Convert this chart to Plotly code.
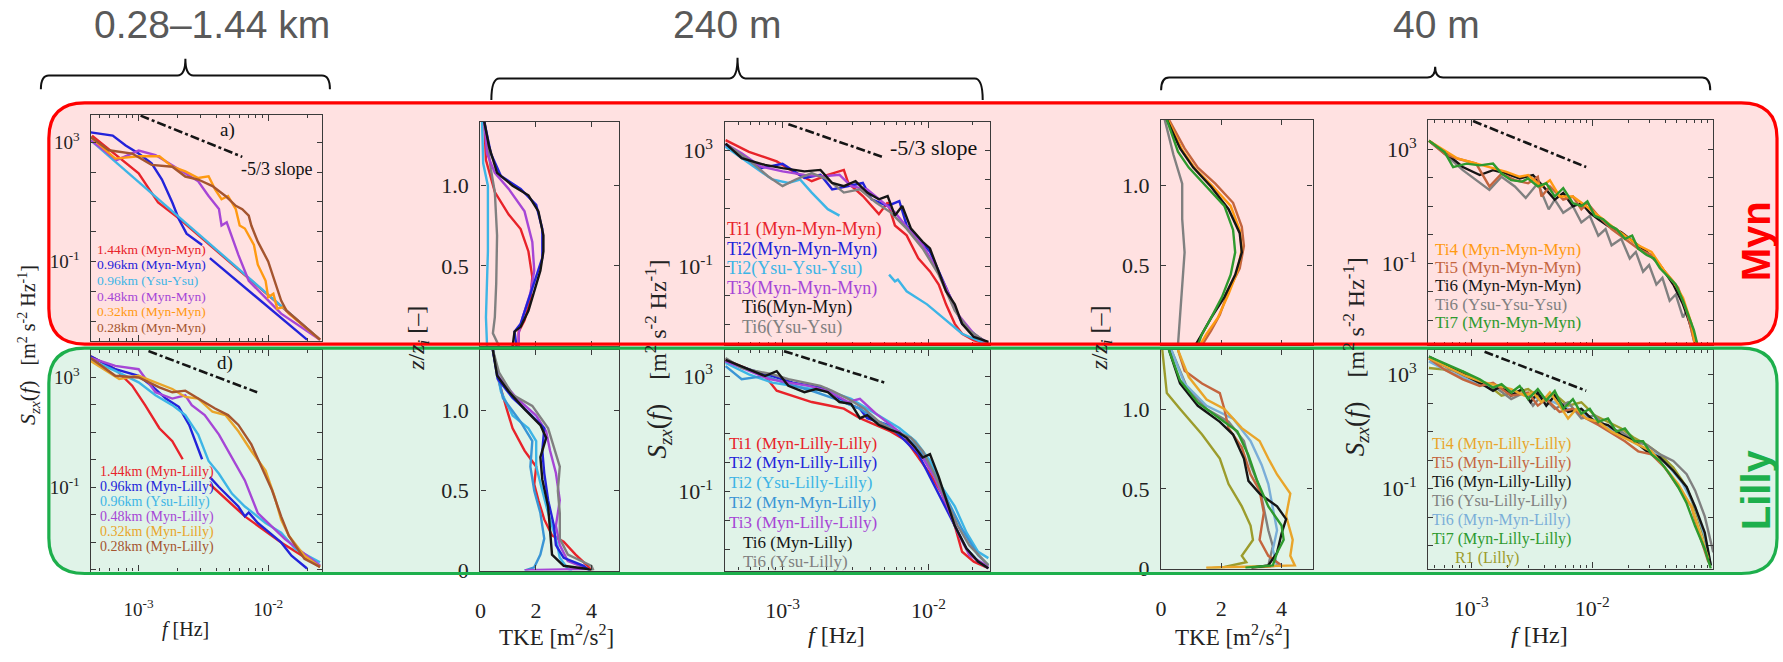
import plotly.graph_objects as go

W, H = 1783, 662

# ======================= DATA =======================
# Spectra: (log10 f [Hz], log10 S_zx [m2 s-2 Hz-1]); (None, None) = gap hidden by legend box
# ---- a) 0.28-1.44 km, Myn
a_144 = [(-3.36,3.22),(-3.19,2.62),(-3.00,1.96),(-2.85,0.98),(-2.69,0.45),(-1.60,-3.61)]
a_096 = [(-3.37,3.33),(-3.20,3.22),(-3.10,2.89),(-3.00,2.62),(-2.90,2.29),(-2.82,1.75),(-2.74,0.98),
         (-2.69,0.43),(-2.63,-0.06),(-2.51,-0.44),(None,None),(-2.45,-0.88),(-1.70,-3.61)]
a_096y = [(-3.37,3.06),(-2.50,-0.22),(-1.60,-3.61)]
a_048 = [(-3.37,3.06),(-3.17,2.40),(-3.00,2.72),(-2.87,2.57),(-2.64,1.96),(-2.54,1.69),(-2.46,1.20),
         (-2.38,0.76),(-2.36,0.21),(-2.32,0.32),(-2.23,-0.77),(-2.15,-1.64),(-2.05,-2.08),(-1.90,-2.74),(-1.60,-3.61)]
a_032 = [(-3.37,3.17),(-3.18,2.45),(-3.00,2.53),(-2.84,2.53),(-2.74,2.18),(-2.64,2.02),(-2.54,1.80),
         (-2.46,1.86),(-2.41,1.42),(-2.36,1.09),(-2.31,1.20),(-2.25,0.76),(-2.22,0.21),(-2.18,0.11),
         (-2.11,-0.44),(-2.08,-1.10),(-2.02,-1.64),(-2.00,-2.19),(-1.96,-2.07),(-1.93,-2.57),(-1.88,-2.52),
         (-1.84,-2.74),(-1.60,-3.61)]
a_028 = [(-3.37,3.17),(-3.23,2.73),(-3.05,2.62),(-2.90,2.24),(-2.74,2.18),(-2.64,1.85),(-2.54,1.75),
         (-2.43,1.53),(-2.33,1.20),(-2.25,0.87),(-2.20,0.76),(-2.15,0.54),(-2.13,0.21),(-2.08,-0.33),
         (-2.00,-0.99),(-1.95,-1.64),(-1.90,-2.30),(-1.86,-2.63),(-1.60,-3.61)]
# ---- d) 0.28-1.44 km, Lilly
d_144 = [(-3.37,3.77),(-3.18,3.30),(-3.05,2.70),(-2.95,1.99),(-2.84,1.15),(-2.74,0.68),(-2.66,0.02),
         (None,None),(-2.45,-0.89),(-2.18,-2.06),(-1.90,-3.01),(-1.60,-3.90)]
d_096 = [(-3.37,3.77),(-3.18,3.30),(-3.00,3.06),(-2.90,2.70),(-2.79,2.23),(-2.69,1.93),(-2.61,1.27),
         (-2.56,0.68),(-2.51,0.02),(None,None),(-2.45,-0.63),(-2.38,-0.99),(-2.23,-1.70),(-2.18,-2.06),
         (-2.15,-1.92),(-2.08,-2.30),(-1.90,-3.01),(-1.82,-3.49),(-1.70,-3.96)]
d_096y = [(-3.37,3.65),(-3.18,3.24),(-3.00,2.82),(-2.87,2.35),(-2.74,1.99),(-2.64,1.63),(-2.54,0.92),
          (-2.46,-0.04),(-2.38,-0.51),(-2.28,-1.23),(-2.18,-1.70),(-2.02,-2.30),(-1.90,-2.65),(-1.79,-3.25),(-1.60,-3.73)]
d_048 = [(-3.37,3.71),(-3.18,3.42),(-3.00,3.30),(-2.87,2.46),(-2.74,2.23),(-2.64,2.35),(-2.59,1.99),
         (-2.49,1.63),(-2.38,0.92),(-2.28,0.08),(-2.18,-0.75),(-2.08,-1.94),(-1.97,-2.42),(-1.87,-2.89),
         (-1.77,-3.25),(-1.60,-3.85)]
d_032 = [(-3.37,3.60),(-3.15,2.94),(-3.00,3.06),(-2.87,2.82),(-2.74,2.58),(-2.64,2.29),(-2.54,2.23),
         (-2.43,1.75),(-2.33,1.63),(-2.23,1.04),(-2.13,0.32),(-2.02,-0.39),(-1.95,-1.35),(-1.90,-2.18),
         (-1.84,-2.77),(-1.72,-3.49),(-1.60,-3.90)]
d_028 = [(-3.37,3.71),(-3.18,3.06),(-3.00,3.00),(-2.84,2.64),(-2.74,2.46),(-2.64,2.52),(-2.54,2.23),
         (-2.41,1.87),(-2.31,1.63),(-2.23,1.27),(-2.13,0.56),(-2.05,-0.27),(-1.97,-1.11),(-1.90,-2.06),
         (-1.84,-2.77),(-1.72,-3.61),(-1.60,-3.90)]
# ---- 240 m spectra, Myn
m240_ti1 = [(-3.39,3.34),(-3.23,2.94),(-3.04,2.61),(-2.91,2.21),(-2.80,1.93),(-2.69,2.15),(-2.58,2.32),
            (-2.55,1.87),(-2.45,1.42),(-2.34,0.80),(-2.28,1.20),(-2.23,0.41),(-2.15,0.07),(-2.07,-0.72),
            (-1.99,-1.17),(-1.93,-1.62),(-1.88,-2.30),(-1.82,-2.97),(-1.77,-3.31),(-1.69,-3.54),(-1.59,-3.65)]
m240_ti2 = [(-3.39,3.17),(-3.28,2.77),(-3.15,2.38),(-3.00,2.53),(-2.85,2.04),(-2.74,2.15),(-2.66,1.65),
            (-2.55,1.76),(-2.45,1.87),(-2.39,1.31),(-2.28,1.08),(-2.20,1.25),(-2.15,0.41),(-2.07,-0.04),
            (-1.99,-0.49),(-1.91,-1.39),(-1.85,-2.07),(-1.77,-2.97),(-1.66,-3.42),(-1.59,-3.63)]
m240_ti2y = [(-3.39,3.11),(-3.23,2.55),(-3.07,1.99),(-2.96,1.87),(-2.88,1.99),(-2.80,1.54),(-2.69,0.97),
             (-2.61,0.75),(None,None),(-2.27,-1.28),(-2.25,-1.40),(-2.23,-1.51),(-2.21,-1.45),(-2.15,-1.85),
             (-2.01,-2.30),(-1.88,-2.86),(-1.77,-3.31),(-1.61,-3.65)]
m240_ti3 = [(-3.39,3.22),(-3.28,2.89),(-3.15,2.44),(-3.00,2.27),(-2.85,2.15),(-2.72,2.10),(-2.61,2.15),
            (-2.53,1.76),(-2.42,1.65),(-2.31,1.20),(-2.23,0.86),(-2.12,0.18),(-2.04,-0.27),(-1.96,-0.94),
            (-1.88,-1.73),(-1.80,-2.63),(-1.69,-3.31),(-1.59,-3.65)]
m240_ti6 = [(-3.39,3.22),(-3.28,2.72),(-3.12,2.49),(-3.00,2.38),(-2.85,2.27),(-2.74,2.32),(-2.66,1.87),
            (-2.58,1.76),(-2.50,1.93),(-2.42,1.54),(-2.34,1.31),(-2.28,1.42),(-2.23,0.75),(-2.18,1.08),
            (-2.12,0.30),(-2.04,-0.15),(-1.99,-0.38),(-1.93,-1.17),(-1.88,-1.85),(-1.82,-2.30),(-1.77,-2.97),
            (-1.69,-3.42),(-1.59,-3.59)]
m240_ti6y = [(-3.39,3.22),(-3.23,2.66),(-3.10,2.10),(-3.00,1.76),(-2.91,1.99),(-2.80,2.21),(-2.69,1.99),
             (-2.58,1.54),(-2.47,1.65),(-2.36,1.20),(-2.26,0.86),(-2.15,0.30),(-2.04,-0.38),(-1.93,-1.28),
             (-1.82,-2.52),(-1.72,-3.20),(-1.59,-3.65)]
# ---- 240 m spectra, Lilly
l240_ti1 = [(-3.39,3.56),(-3.23,3.23),(-3.12,3.00),(-3.04,2.49),(-2.93,2.32),(-2.80,2.10),(-2.69,1.99),
            (-2.58,1.87),(-2.47,1.54),(-2.36,1.31),(-2.26,1.08),(-2.15,0.75),(-2.07,0.18),(-1.99,-0.38),
            (-1.91,-1.06),(-1.82,-2.18),(-1.77,-3.08),(-1.69,-3.42),(-1.59,-3.65)]
l240_ti2 = [(-3.39,3.51),(-3.23,3.23),(-3.07,3.00),(-2.93,2.77),(-2.80,2.66),(-2.69,2.55),(-2.58,2.10),
            (-2.47,1.87),(-2.42,1.54),(-2.28,1.31),(-2.18,0.86),(-2.07,0.30),(-1.99,-0.49),(-1.91,-1.28),
            (-1.82,-2.18),(-1.74,-2.97),(-1.66,-3.42),(-1.59,-3.65)]
l240_ti2y = [(-3.39,3.45),(-3.23,3.06),(-3.07,2.77),(-2.93,2.66),(-2.80,2.55),(-2.66,2.44),(-2.53,2.21),
             (-2.42,1.87),(-2.31,1.54),(-2.20,1.20),(-2.09,0.75),(-1.99,0.07),(-1.91,-0.83),(-1.82,-1.51),
             (-1.74,-2.41),(-1.66,-3.08),(-1.59,-3.30)]
l240_ti2m = [(-3.39,3.34),(-3.28,2.89),(-3.12,3.00),(-2.96,2.72),(-2.80,2.49),(-2.64,2.21),(-2.47,1.87),
             (-2.34,1.42),(-2.20,1.08),(-2.07,0.52),(-1.96,-0.38),(-1.88,-1.17),(-1.77,-2.30),(-1.66,-3.20),(-1.59,-3.54)]
l240_ti3 = [(-3.39,3.51),(-3.23,3.17),(-3.09,2.89),(-2.96,2.77),(-2.82,2.66),(-2.69,2.49),(-2.55,2.10),
            (-2.47,2.21),(-2.36,1.70),(-2.26,1.31),(-2.15,0.86),(-2.04,0.18),(-1.96,-0.49),(-1.88,-1.39),
            (-1.80,-2.41),(-1.72,-3.20),(-1.59,-3.59)]
l240_ti6 = [(-3.39,3.56),(-3.23,3.23),(-3.12,3.00),(-3.04,3.17),(-2.96,2.66),(-2.85,2.44),(-2.77,2.55),
            (-2.69,2.44),(-2.61,2.10),(-2.53,2.04),(-2.47,1.54),(-2.42,1.65),(-2.34,1.31),(-2.26,1.14),
            (-2.20,1.03),(-2.15,0.86),(-2.09,0.52),(-2.04,0.18),(-1.99,0.30),(-1.93,-0.49),(-1.88,-1.28),
            (-1.82,-2.18),(-1.74,-2.97),(-1.66,-3.42),(-1.59,-3.65)]
l240_ti6y = [(-3.39,3.62),(-3.28,3.28),(-3.18,3.17),(-3.07,3.06),(-2.96,2.89),(-2.85,2.77),(-2.74,2.66),
             (-2.66,2.49),(-2.55,2.21),(-2.44,1.87),(-2.34,1.42),(-2.23,1.08),(-2.12,0.86),(-2.04,0.41),
             (-1.96,-0.38),(-1.88,-1.28),(-1.80,-2.18),(-1.72,-2.86),(-1.59,-3.54)]
# ---- 40 m spectra, Myn
m40_ti4 = [(-3.35,3.29),(-3.22,2.94),(-3.11,2.66),(-3.00,2.54),(-2.85,2.37),(-2.71,2.20),(-2.60,2.03),
           (-2.53,2.09),(-2.42,1.69),(-2.35,1.91),(-2.27,1.34),(-2.16,1.34),(-2.05,1.00),(-1.95,0.66),
           (-1.84,0.31),(-1.73,-0.03),(-1.62,-0.37),(-1.51,-0.60),(-1.40,-1.29),(-1.33,-1.63),(-1.25,-2.20),
           (-1.18,-3.11),(-1.15,-3.86)]
m40_ti5 = [(-3.35,3.29),(-3.22,2.83),(-3.11,2.66),(-2.96,2.49),(-2.85,1.69),(-2.75,2.14),(-2.64,1.91),
           (-2.53,1.80),(-2.45,2.03),(-2.42,1.34),(-2.35,1.69),(-2.24,1.23),(-2.16,1.34),(-2.09,0.89),
           (-2.04,1.11),(-1.95,0.66),(-1.84,0.20),(-1.73,-0.14),(-1.62,-0.49),(-1.51,-0.71),(-1.40,-1.29),
           (-1.29,-1.86),(-1.22,-2.66),(-1.15,-3.86)]
m40_ti6 = [(-3.35,3.29),(-3.22,2.89),(-3.07,2.37),(-2.93,2.09),(-2.82,2.26),(-2.71,2.14),(-2.60,1.97),
           (-2.49,2.09),(-2.38,1.57),(-2.31,1.23),(-2.24,1.46),(-2.16,1.00),(-2.09,1.11),(-2.02,0.77),
           (-1.95,0.54),(-1.87,0.31),(-1.76,0.09),(-1.65,-0.26),(-1.55,-0.60),(-1.44,-1.06),(-1.33,-1.74),
           (-1.25,-2.43),(-1.18,-3.23),(-1.13,-3.86)]
m40_ti6y = [(-3.35,3.29),(-3.22,2.83),(-3.07,2.26),(-2.96,1.91),(-2.85,1.57),(-2.75,2.03),(-2.64,1.69),
            (-2.55,1.29),(-2.45,1.80),(-2.36,0.89),(-2.31,1.23),(-2.24,0.77),(-2.16,1.00),(-2.09,0.43),
            (-2.02,0.66),(-1.95,-0.03),(-1.89,0.20),(-1.84,-0.37),(-1.76,-0.14),(-1.69,-0.83),(-1.64,-0.60),
            (-1.58,-1.29),(-1.53,-1.06),(-1.47,-1.74),(-1.42,-1.51),(-1.36,-2.31),(-1.31,-2.09),(-1.25,-2.89),
            (-1.22,-2.66),(-1.18,-3.34),(-1.15,-3.86)]
m40_ti7 = [(-3.35,3.29),(-3.22,2.89),(-3.15,2.37),(-3.04,2.49),(-2.93,2.43),(-2.82,2.49),(-2.75,2.14),
           (-2.67,1.91),(-2.58,1.86),(-2.53,1.97),(-2.45,1.69),(-2.38,1.80),(-2.31,1.34),(-2.24,1.63),
           (-2.16,1.11),(-2.09,1.00),(-2.04,1.17),(-1.98,0.66),(-1.91,0.54),(-1.85,0.31),(-1.80,0.20),
           (-1.73,-0.14),(-1.67,-0.03),(-1.62,-0.49),(-1.55,-0.71),(-1.49,-0.83),(-1.44,-1.17),(-1.36,-1.51),
           (-1.31,-1.74),(-1.25,-2.31),(-1.20,-2.89),(-1.16,-3.34),(-1.13,-3.86)]
# ---- 40 m spectra, Lilly
l40_ti4 = [(-3.35,3.57),(-3.18,3.23),(-3.04,2.94),(-2.93,2.77),(-2.78,2.60),(-2.67,2.49),(-2.56,2.26),
           (-2.49,2.37),(-2.42,2.03),(-2.35,2.37),(-2.27,1.91),(-2.20,1.46),(-2.13,1.80),(-2.05,1.46),
           (-1.95,1.34),(-1.84,1.00),(-1.73,0.77),(-1.62,0.54),(-1.51,0.31),(-1.40,-0.26),(-1.29,-0.83),
           (-1.18,-1.63),(-1.11,-2.54),(-1.04,-3.46)]
l40_ti5 = [(-3.35,3.57),(-3.22,3.17),(-3.07,2.83),(-2.93,2.60),(-2.82,2.71),(-2.67,2.26),(-2.53,2.37),
           (-2.45,1.91),(-2.38,2.14),(-2.27,1.69),(-2.16,1.80),(-2.05,1.46),(-1.95,1.23),(-1.84,0.94),
           (-1.73,0.66),(-1.62,0.31),(-1.51,0.20),(-1.40,-0.26),(-1.29,-0.94),(-1.18,-1.63),(-1.11,-2.66),
           (-1.04,-3.57)]
l40_ti6 = [(-3.35,3.63),(-3.22,3.34),(-3.07,3.00),(-2.93,2.71),(-2.82,2.43),(-2.75,2.60),(-2.67,2.26),
           (-2.58,2.49),(-2.51,2.03),(-2.45,2.37),(-2.38,1.91),(-2.31,2.26),(-2.20,1.69),(-2.09,1.80),
           (-1.98,1.34),(-1.87,1.23),(-1.76,0.89),(-1.65,0.66),(-1.55,0.31),(-1.44,0.09),(-1.33,-0.37),
           (-1.22,-0.94),(-1.15,-1.63),(-1.07,-2.54),(-1.02,-3.69)]
l40_ti6y = [(-3.35,3.57),(-3.22,3.29),(-3.07,2.94),(-2.93,2.66),(-2.78,2.49),(-2.67,2.14),(-2.56,2.37),
            (-2.49,1.91),(-2.42,2.26),(-2.31,1.80),(-2.20,2.03),(-2.09,1.46),(-1.98,1.57),(-1.87,1.11),
            (-1.76,1.00),(-1.65,0.66),(-1.55,0.54),(-1.44,0.20),(-1.33,-0.03),(-1.22,-0.49),(-1.15,-1.06),
            (-1.07,-1.97),(-1.00,-3.23)]
l40_ti6m = [(-3.35,3.46),(-3.22,3.17),(-3.07,2.89),(-2.93,2.66),(-2.78,2.54),(-2.64,2.37),(-2.49,2.20),
            (-2.35,2.09),(-2.20,1.80),(-2.05,1.57),(-1.91,1.23),(-1.76,0.89),(-1.62,0.54),(-1.47,0.20),
            (-1.36,-0.26),(-1.25,-0.83),(-1.15,-1.63),(-1.07,-2.66),(-1.02,-3.69)]
l40_ti7 = [(-3.35,3.63),(-3.22,3.40),(-3.07,3.11),(-2.93,2.83),(-2.82,2.54),(-2.75,2.66),(-2.67,2.37),
           (-2.60,2.60),(-2.53,2.14),(-2.45,2.49),(-2.38,2.09),(-2.31,2.43),(-2.24,1.80),(-2.16,2.14),
           (-2.09,1.63),(-2.02,1.80),(-1.95,1.34),(-1.87,1.46),(-1.80,1.00),(-1.73,1.11),(-1.65,0.66),
           (-1.58,0.66),(-1.51,0.20),(-1.44,-0.03),(-1.36,-0.49),(-1.29,-0.94),(-1.22,-1.51),(-1.15,-2.31),
           (-1.07,-3.11),(-1.02,-3.80)]
l40_r1 = [(-3.35,3.23),(-3.22,3.17),(-3.07,3.11),(-2.96,2.83),(-2.85,2.60),(-2.75,2.26),(-2.64,2.37),
          (-2.53,2.49),(-2.42,2.14),(-2.31,2.31),(-2.20,1.91),(-2.09,2.03),(-1.98,1.57),(-1.87,1.34),
          (-1.76,1.11),(-1.65,0.77),(-1.55,0.54),(-1.44,0.20),(-1.33,-0.26),(-1.22,-0.94),(-1.15,-1.74),
          (-1.07,-2.77),(-1.02,-3.69)]

# TKE profiles: (TKE [m2/s2], z/zi)
t240m_ti1 = [(0.14,1.40),(0.20,1.16),(0.52,0.96),(1.02,0.82),(1.45,0.73),(1.73,0.59),(1.87,0.43),
             (1.80,0.29),(1.59,0.16),(1.38,0.09),(1.38,0.0)]
t240m_ti2 = [(0.14,1.40),(0.38,1.20),(0.74,1.06),(1.45,0.98),(2.01,0.88),(2.23,0.73),(2.23,0.55),
             (2.01,0.43),(1.73,0.29),(1.45,0.14),(1.23,0.09),(1.30,0.0)]
t240m_ti2y = [(0.06,1.40),(0.10,1.14),(0.27,1.00),(0.27,0.59),(0.20,0.18),(0.24,0.0)]
t240m_ti3 = [(0.14,1.40),(0.24,1.20),(0.52,1.08),(1.02,0.98),(1.59,0.84),(1.87,0.65),(1.94,0.47),
             (1.80,0.33),(1.52,0.18),(1.38,0.08),(1.38,0.0)]
t240m_ti6 = [(0.14,1.40),(0.31,1.245),(0.60,1.08),(1.16,1.00),(1.73,0.94),(2.09,0.84),(2.27,0.69),
             (2.27,0.59),(2.16,0.47),(1.94,0.35),(1.73,0.22),(1.45,0.12),(1.23,0.09),(1.16,0.0)]
t240m_ti6y = [(0.14,1.40),(0.38,1.10),(0.52,0.96),(0.60,0.69),(0.57,0.39),(0.52,0.18),(0.45,0.08),(0.67,0.0)]

t240l_ti1 = [(0.45,1.38),(0.67,1.18),(0.95,1.01),(1.16,0.89),(1.59,0.75),(2.01,0.65),(1.94,0.54),
             (2.09,0.44),(2.30,0.32),(2.58,0.22),(3.00,0.18),(3.43,0.10),(3.86,0.03),(4.00,0.0)]
t240l_ti2 = [(0.45,1.38),(0.62,1.20),(1.16,1.08),(1.73,0.99),(2.30,0.89),(2.23,0.75),(2.30,0.61),
             (2.44,0.44),(2.65,0.28),(2.72,0.16),(3.00,0.08),(3.72,0.03),(3.93,0.0)]
t240l_ti2y = [(0.45,1.38),(0.74,1.12),(1.16,0.97),(1.73,0.89),(2.01,0.81),(2.01,0.65),(2.23,0.50),
              (2.44,0.36),(2.72,0.20),(2.86,0.08),(3.15,0.01),(3.30,0.0)]
t240l_ti2m = [(0.45,1.38),(0.81,1.08),(1.45,0.93),(1.87,0.81),(1.80,0.65),(1.94,0.50),(2.16,0.36),
              (2.30,0.20),(2.16,0.10),(1.94,0.02),(1.59,0.0)]
t240l_ti3 = [(0.45,1.38),(0.62,1.22),(1.30,1.08),(2.01,0.97),(2.37,0.87),(2.51,0.75),(2.72,0.61),
             (2.86,0.44),(2.72,0.28),(2.86,0.16),(3.15,0.06),(3.86,0.01),(1.60,0.003)]
t240l_ti6 = [(0.45,1.38),(0.60,1.22),(1.02,1.12),(1.59,1.01),(2.16,0.91),(2.37,0.83),(2.16,0.71),
             (2.23,0.57),(2.44,0.40),(2.51,0.24),(2.58,0.10),(3.00,0.03),(3.86,0.01),(4.00,0.0)]
t240l_ti6y = [(0.45,1.38),(0.67,1.24),(1.16,1.10),(1.87,1.03),(2.44,0.89),(2.65,0.77),(2.86,0.65),
              (2.79,0.50),(2.86,0.36),(2.86,0.20),(3.15,0.10),(4.00,0.03),(4.07,0.0)]

t40m_ti4 = [(0.22,1.41),(0.70,1.22),(1.14,1.10),(1.73,0.99),(2.31,0.87),(2.61,0.72),(2.68,0.60),
            (2.53,0.46),(2.24,0.32),(1.88,0.17),(1.51,0.07),(1.29,0.0)]
t40m_ti5 = [(0.26,1.41),(0.78,1.23),(1.22,1.11),(1.80,1.01),(2.39,0.89),(2.68,0.74),(2.75,0.62),
            (2.61,0.48),(2.24,0.34),(1.95,0.19),(1.66,0.09),(1.36,0.0)]
t40m_ti6 = [(0.19,1.41),(0.63,1.23),(1.07,1.11),(1.66,0.99),(2.24,0.85),(2.61,0.70),(2.68,0.58),
            (2.46,0.44),(2.10,0.30),(1.66,0.17),(1.36,0.07),(1.14,0.0)]
t40m_ti6y = [(0.12,1.41),(0.41,1.19),(0.70,1.01),(0.70,0.79),(0.78,0.58),(0.70,0.38),(0.63,0.17),(0.56,0.0)]
t40m_ti7 = [(0.19,1.41),(0.56,1.21),(0.92,1.11),(1.51,0.99),(2.10,0.87),(2.39,0.72),(2.46,0.58),
            (2.31,0.44),(2.02,0.30),(1.66,0.17),(1.36,0.07),(1.22,0.0)]

t40l_ti4 = [(0.56,1.37),(0.92,1.20),(1.51,1.06),(2.10,1.00),(2.68,0.88),(3.27,0.80),(3.56,0.69),
            (3.85,0.59),(4.29,0.47),(4.15,0.33),(4.37,0.18),(4.29,0.08),(4.44,0.02),(1.50,0.005)]
t40l_ti5 = [(0.56,1.37),(0.78,1.24),(1.36,1.16),(1.95,1.10),(2.10,1.00),(2.24,0.88),(2.68,0.76),
            (2.97,0.59),(3.27,0.49),(3.41,0.35),(3.27,0.18),(3.56,0.08),(4.00,0.02),(3.00,0.005)]
t40l_ti6 = [(0.26,1.37),(0.63,1.16),(1.22,1.02),(1.95,0.92),(2.39,0.84),(2.75,0.69),(2.90,0.55),
            (3.27,0.47),(3.85,0.39),(4.15,0.31),(4.00,0.22),(3.85,0.10),(3.56,0.02),(3.00,0.005)]
t40l_ti6y = [(0.34,1.37),(0.85,1.14),(1.51,1.00),(2.24,0.92),(2.75,0.80),(2.97,0.65),(3.27,0.51),
             (3.41,0.39),(3.56,0.24),(3.71,0.14),(3.56,0.02)]
t40l_ti6m = [(0.34,1.37),(0.78,1.16),(1.51,1.02),(2.39,0.94),(2.97,0.80),(3.34,0.65),(3.56,0.53),
             (3.71,0.39),(3.85,0.24),(3.71,0.12),(3.85,0.02)]
t40l_ti7 = [(0.26,1.37),(0.63,1.18),(1.22,1.04),(1.95,0.94),(2.53,0.86),(2.90,0.71),(3.19,0.55),
            (3.56,0.39),(4.00,0.27),(4.07,0.18),(3.85,0.10),(3.71,0.02),(2.80,0.005)]
t40l_r1 = [(0.04,1.37),(0.19,1.10),(0.63,1.00),(1.36,0.84),(1.95,0.69),(2.24,0.53),(2.68,0.39),
           (2.97,0.27),(3.05,0.18),(2.68,0.08),(2.83,0.04),(2.10,0.01),(1.51,0.0)]

# -5/3 reference line end points (log10 f, log10 S) per spectrum panel
slope_a = [(-2.985,3.89),(-2.20,2.51)]
slope_d = [(-2.924,3.96),(-2.085,2.46)]
slope_m240 = [(-2.96,3.89),(-2.30,2.74)]
slope_l240 = [(-2.99,3.86),(-2.30,2.77)]
slope_m40 = [(-2.985,3.98),(-2.05,2.37)]
slope_l40 = [(-2.89,3.80),(-2.05,2.43)]

# ======================= STYLE =======================
RED = "#E8232A"; BLUE = "#2323DA"; CYAN = "#3DB5E6"; PURPLE = "#A646D6"; ORANGE = "#FF9A12"
BROWN = "#A5552F"; BLACK = "#151515"; GRAY = "#808080"; STEEL = "#3A95D5"; SIENNA = "#C4653E"
GREEN = "#2E9A2E"; OLIVE = "#9C9C2C"; GOLD = "#E9A52A"; LBLUE = "#7AAED8"
AX = "#3a3a3a"
SERIF = "Liberation Serif"
SANS = "Liberation Sans"
LW = 2.4


def X(px):
    return px / W


def Y(py):
    return 1 - py / H


fig = go.Figure()

# panel boxes in pixels: (x0, x1, y0, y1)
boxes = {
    1: (85, 317, 117, 348),      # a
    2: (85, 317, 357, 583),      # d
    3: (476, 615, 124, 353),     # TKE 240 Myn
    4: (476, 615, 357, 582),     # TKE 240 Lilly
    5: (721, 987, 124, 352),     # spec 240 Myn
    6: (721, 987, 357, 582),     # spec 240 Lilly
    7: (1159, 1311, 122, 352),   # TKE 40 Myn
    8: (1159, 1311, 357, 580),   # TKE 40 Lilly
    9: (1427, 1713, 122, 352),   # spec 40 Myn
    10: (1427, 1713, 357, 580),  # spec 40 Lilly
}

minor_x = [k * 10.0 ** e for e in (-4, -3, -2, -1) for k in range(2, 10)]
minor_y = [10.0 ** e for e in (-4, -3, -2, 0, 1, 2, 4)]


def spec_axes(i, xr, yr, show_x, tfs=21):
    x0, x1, y0, y1 = boxes[i]
    common = dict(showline=True, linecolor=AX, linewidth=1.3, mirror='allticks', ticks='inside',
                  tickcolor=AX, tickwidth=1, showgrid=False, zeroline=False,
                  tickfont=dict(family=SERIF, size=tfs, color="#222"))
    xa = dict(common, domain=[X(x0), X(x1)], anchor=f'y{i}', type='log', range=xr,
              tickmode='array', tickvals=[1e-3, 1e-2], ticktext=['10<sup>-3</sup>', '10<sup>-2</sup>'],
              showticklabels=show_x, ticklen=6, ticklabelstandoff=20,
              minor=dict(tickmode='array', tickvals=minor_x, ticks='inside', ticklen=3, tickcolor=AX))
    ya = dict(common, domain=[Y(y1), Y(y0)], anchor=f'x{i}', type='log', range=yr,
              tickmode='array', tickvals=[1e-1, 1e3], ticktext=['10<sup>-1</sup>', '10<sup>3</sup>'],
              ticklen=5, ticklabelstandoff=6,
              minor=dict(tickmode='array', tickvals=minor_y, ticks='inside', ticklen=5, tickcolor=AX))
    return xa, ya


def tke_axes(i, xr, yr, show_x, show_zero):
    x0, x1, y0, y1 = boxes[i]
    common = dict(showline=True, linecolor=AX, linewidth=1.3, mirror='allticks', ticks='inside',
                  tickcolor=AX, tickwidth=1, ticklen=5, showgrid=False, zeroline=False,
                  tickfont=dict(family=SERIF, size=22, color="#222"))
    xa = dict(common, domain=[X(x0), X(x1)], anchor=f'y{i}', range=xr, tickmode='array',
              tickvals=[0, 2, 4], ticktext=['0', '2', '4'], showticklabels=show_x, ticklabelstandoff=20)
    if show_zero:
        yv, yt, ym = [0, 0.5, 1.0], ['0', '0.5', '1.0'], []
    else:
        yv, yt, ym = [0.5, 1.0], ['0.5', '1.0'], [0]
    ya = dict(common, domain=[Y(y1), Y(y0)], anchor=f'x{i}', range=yr, tickmode='array',
              tickvals=yv, ticktext=yt, ticklabelstandoff=6,
              minor=dict(tickmode='array', tickvals=ym, ticks='inside', ticklen=5, tickcolor=AX))
    return xa, ya


axes = {}
axes[1] = spec_axes(1, [-3.37, -1.585], [-3.66, 3.92], False, 19)
axes[2] = spec_axes(2, [-3.37, -1.585], [-4.07, 4.0], True, 19)
axes[3] = tke_axes(3, [0, 4.99], [0, 1.40], False, False)
axes[4] = tke_axes(4, [0, 4.99], [0, 1.38], True, True)
axes[5] = spec_axes(5, [-3.397, -1.581], [-3.70, 3.98], False, 22)
axes[6] = spec_axes(6, [-3.397, -1.581], [-3.73, 3.90], True, 22)
axes[7] = tke_axes(7, [0, 5.03], [0, 1.41], False, False)
axes[8] = tke_axes(8, [0, 5.03], [0, 1.37], True, True)
axes[9] = spec_axes(9, [-3.356, -1.0], [-3.86, 4.03], False, 22)
axes[10] = spec_axes(10, [-3.356, -1.0], [-3.80, 3.86], True, 22)

lay = {}
for i, (xa, ya) in axes.items():
    lay['xaxis' if i == 1 else f'xaxis{i}'] = xa
    lay['yaxis' if i == 1 else f'yaxis{i}'] = ya


def add_spec(i, pts, color, width=LW, dash=None):
    xs = [None if p[0] is None else 10 ** p[0] for p in pts]
    ys = [None if p[1] is None else 10 ** p[1] for p in pts]
    fig.add_trace(go.Scatter(x=xs, y=ys, mode='lines', line=dict(color=color, width=width, dash=dash),
                             xaxis='x' if i == 1 else f'x{i}', yaxis='y' if i == 1 else f'y{i}',
                             hoverinfo='skip', connectgaps=False))


def add_tke(i, pts, color, width=LW):
    fig.add_trace(go.Scatter(x=[p[0] for p in pts], y=[p[1] for p in pts], mode='lines',
                             line=dict(color=color, width=width),
                             xaxis=f'x{i}', yaxis=f'y{i}', hoverinfo='skip'))


panel_series = {
    1: [(a_144, RED), (a_096, BLUE), (a_096y, CYAN), (a_048, PURPLE), (a_032, ORANGE), (a_028, BROWN)],
    2: [(d_144, RED), (d_096, BLUE), (d_096y, CYAN), (d_048, PURPLE), (d_032, GOLD), (d_028, BROWN)],
    5: [(m240_ti1, RED), (m240_ti2, BLUE), (m240_ti2y, CYAN), (m240_ti3, PURPLE), (m240_ti6y, GRAY), (m240_ti6, BLACK)],
    6: [(l240_ti1, RED), (l240_ti2, BLUE), (l240_ti2y, CYAN), (l240_ti2m, STEEL), (l240_ti3, PURPLE), (l240_ti6y, GRAY), (l240_ti6, BLACK)],
    9: [(m40_ti6y, GRAY), (m40_ti6, BLACK), (m40_ti5, SIENNA), (m40_ti4, ORANGE), (m40_ti7, GREEN)],
    10: [(l40_r1, OLIVE), (l40_ti6y, GRAY), (l40_ti6m, LBLUE), (l40_ti6, BLACK), (l40_ti5, SIENNA), (l40_ti4, GOLD), (l40_ti7, GREEN)],
}
tke_series = {
    3: [(t240m_ti1, RED), (t240m_ti2y, CYAN), (t240m_ti6y, GRAY), (t240m_ti3, PURPLE), (t240m_ti2, BLUE), (t240m_ti6, BLACK)],
    4: [(t240l_ti1, RED), (t240l_ti2y, CYAN), (t240l_ti2m, STEEL), (t240l_ti3, PURPLE), (t240l_ti2, BLUE), (t240l_ti6y, GRAY), (t240l_ti6, BLACK)],
    7: [(t40m_ti6y, GRAY), (t40m_ti5, SIENNA), (t40m_ti4, ORANGE), (t40m_ti6, BLACK), (t40m_ti7, GREEN)],
    8: [(t40l_r1, OLIVE), (t40l_ti6y, GRAY), (t40l_ti6m, LBLUE), (t40l_ti5, SIENNA), (t40l_ti4, GOLD), (t40l_ti6, BLACK), (t40l_ti7, GREEN)],
}
slopes = {1: slope_a, 2: slope_d, 5: slope_m240, 6: slope_l240, 9: slope_m40, 10: slope_l40}

for i, lst in panel_series.items():
    for pts, c in lst:
        add_spec(i, pts, c)
    add_spec(i, slopes[i], BLACK, width=2.6, dash='dashdot')
for i, lst in tke_series.items():
    for pts, c in lst:
        add_tke(i, pts, c)

# ======================= SHAPES =======================
def rrect(l, t, r, b, rad):
    return (f"M {X(l+rad)},{Y(t)} L {X(r-rad)},{Y(t)} Q {X(r)},{Y(t)} {X(r)},{Y(t+rad)} "
            f"L {X(r)},{Y(b-rad)} Q {X(r)},{Y(b)} {X(r-rad)},{Y(b)} L {X(l+rad)},{Y(b)} "
            f"Q {X(l)},{Y(b)} {X(l)},{Y(b-rad)} L {X(l)},{Y(t+rad)} Q {X(l)},{Y(t)} {X(l+rad)},{Y(t)} Z")


def brace(l, r, ybar, yend, xtip, ytip):
    c = 8
    return (f"M {X(l)},{Y(yend)} Q {X(l)},{Y(ybar)} {X(l+c)},{Y(ybar)} L {X(xtip-c)},{Y(ybar)} "
            f"Q {X(xtip)},{Y(ybar)} {X(xtip)},{Y(ytip)} Q {X(xtip)},{Y(ybar)} {X(xtip+c)},{Y(ybar)} "
            f"L {X(r-c)},{Y(ybar)} Q {X(r)},{Y(ybar)} {X(r)},{Y(yend)}")


shapes = []
red_path = rrect(43, 105, 1777, 351, 36)
green_path = rrect(43, 355, 1777, 585, 36)
shapes.append(dict(type='path', path=red_path, xref='paper', yref='paper', fillcolor='#FFE1E1',
                   line=dict(width=0), layer='below'))
shapes.append(dict(type='path', path=green_path, xref='paper', yref='paper', fillcolor='#E0F3E8',
                   line=dict(width=0), layer='below'))
shapes.append(dict(type='path', path=red_path, xref='paper', yref='paper', fillcolor='rgba(0,0,0,0)',
                   line=dict(width=3.2, color='#FF0000'), layer='above'))
shapes.append(dict(type='path', path=green_path, xref='paper', yref='paper', fillcolor='rgba(0,0,0,0)',
                   line=dict(width=3.2, color='#1DAF4C'), layer='above'))
for args in [(35, 325, 77, 91, 180, 60), (487, 980, 80, 102, 734, 59), (1159, 1710, 79, 92, 1434, 68)]:
    shapes.append(dict(type='path', path=brace(*args), xref='paper', yref='paper',
                       line=dict(width=2, color='#111111')))

# ======================= TEXT =======================
ann = []


def txt(px, py, s, color='#111', size=18, family=SERIF, xanchor='left', angle=0):
    ann.append(dict(x=X(px), y=Y(py), xref='paper', yref='paper', text=s, showarrow=False,
                    xanchor=xanchor, yanchor='middle', textangle=angle,
                    font=dict(family=family, size=size, color=color)))


# Titles
for px, s in [(207, "0.28–1.44 km"), (723, "240 m"), (1435, "40 m")]:
    txt(px, 25, s, color='#595959', size=39, family=SANS, xanchor='center')
# Group labels
txt(1756, 246, "<b>Myn</b>", color='#FF0000', size=40, family=SANS, xanchor='center', angle=-90)
txt(1756, 500, "<b>Lilly</b>", color='#1DAF4C', size=40, family=SANS, xanchor='center', angle=-90)

# legends
leg_a = [("1.44km (Myn-Myn)", RED), ("0.96km (Myn-Myn)", BLUE), ("0.96km (Ysu-Ysu)", CYAN),
         ("0.48km (Myn-Myn)", PURPLE), ("0.32km (Myn-Myn)", ORANGE), ("0.28km (Myn-Myn)", BROWN)]
for k, (s, c) in enumerate(leg_a):
    txt(89, 254 + 16 * k, s, c, 13.5)
leg_d = [("1.44km (Myn-Lilly)", RED), ("0.96km (Myn-Lilly)", BLUE), ("0.96km (Ysu-Lilly)", CYAN),
         ("0.48km (Myn-Lilly)", PURPLE), ("0.32km (Myn-Lilly)", GOLD), ("0.28km (Myn-Lilly)", BROWN)]
for k, (s, c) in enumerate(leg_d):
    txt(92, 481 + 15.3 * k, s, c, 14)
leg_m240 = [("Ti1 (Myn-Myn-Myn)", RED, 721), ("Ti2(Myn-Myn-Myn)", BLUE, 721), ("Ti2(Ysu-Ysu-Ysu)", CYAN, 721),
            ("Ti3(Myn-Myn-Myn)", PURPLE, 721), ("Ti6(Myn-Myn)", BLACK, 736), ("Ti6(Ysu-Ysu)", GRAY, 736)]
for k, (s, c, px) in enumerate(leg_m240):
    txt(px, 234 + 20 * k, s, c, 18)
leg_l240 = [("Ti1 (Myn-Lilly-Lilly)", RED, 723), ("Ti2 (Myn-Lilly-Lilly)", BLUE, 723),
            ("Ti2 (Ysu-Lilly-Lilly)", CYAN, 723), ("Ti2 (Myn-Myn-Lilly)", STEEL, 723),
            ("Ti3 (Myn-Lilly-Lilly)", PURPLE, 723), ("Ti6 (Myn-Lilly)", BLACK, 737), ("Ti6 (Ysu-Lilly)", GRAY, 737)]
for k, (s, c, px) in enumerate(leg_l240):
    txt(px, 452 + 20.2 * k, s, c, 17)
leg_m40 = [("Ti4 (Myn-Myn-Myn)", ORANGE), ("Ti5 (Myn-Myn-Myn)", SIENNA), ("Ti6 (Myn-Myn-Myn)", BLACK),
           ("Ti6 (Ysu-Ysu-Ysu)", GRAY), ("Ti7 (Myn-Myn-Myn)", GREEN)]
for k, (s, c) in enumerate(leg_m40):
    txt(1432, 254 + 18.8 * k, s, c, 17)
leg_l40 = [("Ti4 (Myn-Lilly-Lilly)", GOLD, 1429), ("Ti5 (Myn-Lilly-Lilly)", SIENNA, 1429),
           ("Ti6 (Myn-Lilly-Lilly)", BLACK, 1429), ("Ti6 (Ysu-Lilly-Lilly)", GRAY, 1429),
           ("Ti6 (Myn-Myn-Lilly)", LBLUE, 1429), ("Ti7 (Myn-Lilly-Lilly)", GREEN, 1429), ("R1 (Lilly)", OLIVE, 1452)]
for k, (s, c, px) in enumerate(leg_l40):
    txt(px, 453 + 19.3 * k, s, c, 16)

# panel letters / slope notes
txt(222, 133, "a)", '#111', 19, xanchor='center')
txt(220, 370, "d)", '#111', 19, xanchor='center')
txt(272, 172, "-5/3 slope", '#111', 18, xanchor='center')
txt(931, 150, "-5/3 slope", '#111', 22, xanchor='center')

# axis titles (rotated)
SPEC_L = ("<span style='font-size:22px'><i>S</i><sub><i>zx</i></sub>(<i>f</i>)</span>   "
          "[m<sup>2</sup> s<sup>-2</sup> Hz<sup>-1</sup>]")
SPEC_T = ("<span style='font-size:27px'><i>S</i><sub><i>zx</i></sub>(<i>f</i>)</span>    "
          "[m<sup>2</sup> s<sup>-2</sup> Hz<sup>-1</sup>]")
txt(23, 352, SPEC_L, '#222', 20, xanchor='center', angle=-90)
txt(655, 366, SPEC_T, '#222', 24, xanchor='center', angle=-90)
txt(1355, 364, SPEC_T, '#222', 24, xanchor='center', angle=-90)
Z_T = "<i>z</i>/<i>z</i><sub><i>i</i></sub> [–]"
txt(414, 345, Z_T, '#222', 24, xanchor='center', angle=-90)
txt(1099, 345, Z_T, '#222', 24, xanchor='center', angle=-90)
F_T = "<i>f</i> [Hz]"
TKE_T = "TKE [m<sup>2</sup>/s<sup>2</sup>]"
txt(180, 642, F_T, '#222', 20, xanchor='center')
txt(552, 648, TKE_T, '#222', 23, xanchor='center')
txt(833, 648, F_T, '#222', 24, xanchor='center')
txt(1231, 648, TKE_T, '#222', 23, xanchor='center')
txt(1539, 648, F_T, '#222', 24, xanchor='center')

fig.update_layout(width=W, height=H, margin=dict(l=0, r=0, t=0, b=0), paper_bgcolor='white',
                  plot_bgcolor='rgba(0,0,0,0)', showlegend=False, shapes=shapes, annotations=ann, **lay)
fig.write_html("out.html")
